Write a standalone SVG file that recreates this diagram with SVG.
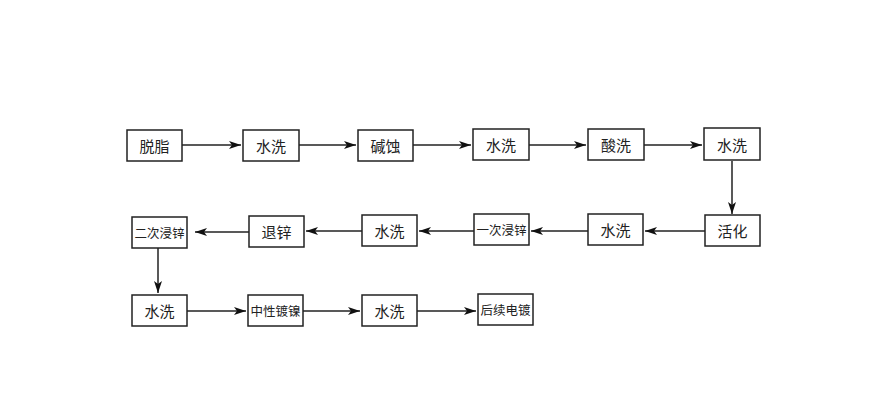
<svg xmlns="http://www.w3.org/2000/svg" width="891" height="414" viewBox="0 0 891 414">
<defs><marker id="a" markerWidth="12" markerHeight="8" refX="12" refY="4" orient="auto" markerUnits="userSpaceOnUse"><path d="M0,0 L12,4 L0,8 L3,4 Z" fill="#111"/></marker>
<style>rect{fill:#fff;stroke:#222;stroke-width:1.5}text{font-family:"Noto Sans CJK SC",sans-serif;font-size:15px;fill:#222;text-anchor:middle;dominant-baseline:central}.s{font-size:12.5px}line{stroke:#222;stroke-width:1.5;marker-end:url(#a)}</style></defs>
<rect x="0" y="0" width="891" height="414" style="fill:#fff;stroke:none"/>
<g id="connectors">
<line x1="182" y1="145" x2="241" y2="145"/><line x1="299" y1="145" x2="356" y2="145"/><line x1="413" y1="145" x2="471" y2="145"/><line x1="529" y1="145" x2="586" y2="145"/><line x1="644" y1="145" x2="702" y2="145"/>
<line x1="732" y1="161" x2="732" y2="214"/>
<line x1="705" y1="231" x2="645" y2="231"/><line x1="588" y1="231" x2="531" y2="231"/><line x1="474" y1="231" x2="419" y2="231"/><line x1="362" y1="231" x2="306" y2="231"/><line x1="249" y1="232" x2="195" y2="232"/>
<line x1="158" y1="248" x2="158" y2="293"/>
<line x1="187" y1="311" x2="246" y2="311"/><line x1="303" y1="311" x2="360" y2="311"/><line x1="417" y1="311" x2="476" y2="311"/>
</g>
<g id="n1"><rect x="127" y="130" width="55" height="31"/><text x="154.5" y="145.5">脱脂</text></g>
<g id="n2"><rect x="243" y="130" width="56" height="31"/><text x="271" y="145.5">水洗</text></g>
<g id="n3"><rect x="358" y="130" width="55" height="31"/><text x="385.5" y="145.5">碱蚀</text></g>
<g id="n4"><rect x="473" y="129" width="56" height="31"/><text x="501" y="144.5">水洗</text></g>
<g id="n5"><rect x="588" y="129" width="56" height="31"/><text x="616" y="144.5">酸洗</text></g>
<g id="n6"><rect x="704" y="128" width="56" height="32"/><text x="732" y="144">水洗</text></g>
<g id="n7"><rect x="705" y="215" width="55" height="31"/><text x="732.5" y="230.5">活化</text></g>
<g id="n8"><rect x="588" y="214" width="55" height="31"/><text x="615.5" y="229.5">水洗</text></g>
<g id="n9"><rect x="474" y="214" width="55" height="31"/><text x="501.5" y="229.5" class="s">一次浸锌</text></g>
<g id="n10"><rect x="362" y="215" width="55" height="31"/><text x="389.5" y="230.5">水洗</text></g>
<g id="n11"><rect x="249" y="216" width="55" height="31"/><text x="276.5" y="231.5">退锌</text></g>
<g id="n12"><rect x="132" y="217" width="55" height="31"/><text x="159.5" y="232.5" class="s">二次浸锌</text></g>
<g id="n13"><rect x="132" y="295" width="55" height="31"/><text x="159.5" y="310.5">水洗</text></g>
<g id="n14"><rect x="248" y="295" width="55" height="31"/><text x="275.5" y="310.5" class="s">中性镀镍</text></g>
<g id="n15"><rect x="362" y="295" width="55" height="31"/><text x="389.5" y="310.5">水洗</text></g>
<g id="n16"><rect x="478" y="294" width="55" height="31"/><text x="505.5" y="309.5" class="s">后续电镀</text></g>
</svg>
